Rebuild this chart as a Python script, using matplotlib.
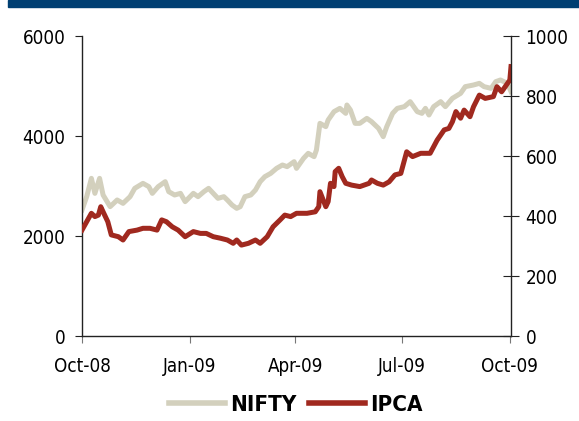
import numpy as np
import pandas as pd
import matplotlib
matplotlib.use("Agg")
import matplotlib.pyplot as plt
from matplotlib.patches import Rectangle

# days after 1 Oct 2008
nifty_days = [0, 4, 8, 11, 15, 18, 24, 30, 35, 41, 45, 52, 57, 60, 65, 71, 74, 79, 84, 88,
              95, 99, 104, 108, 112, 116, 121, 124, 128, 132, 135, 139, 144, 148, 152, 156,
              161, 166, 171, 175, 181, 183, 189, 193, 198, 200, 203, 208, 210, 215, 220, 225,
              226, 229, 233, 237, 243, 247, 253, 257, 260, 265, 269, 275, 280, 286, 290, 293,
              296, 300, 306, 310, 316, 323, 327, 334, 339, 343, 349, 353, 357, 363, 366]
nifty = [2520, 2787, 3153, 2853, 3153, 2820, 2587, 2720, 2653, 2787, 2953, 3053, 2987, 2853,
         2987, 3087, 2887, 2820, 2853, 2687, 2853, 2787, 2887, 2953, 2853, 2753, 2787, 2720,
         2620, 2553, 2587, 2787, 2820, 2920, 3087, 3187, 3253, 3353, 3420, 3387, 3487, 3353,
         3553, 3653, 3587, 3720, 4253, 4187, 4320, 4487, 4553, 4453, 4620, 4520, 4253, 4253,
         4353, 4287, 4153, 3987, 4187, 4453, 4553, 4587, 4687, 4487, 4453, 4553, 4420, 4587,
         4687, 4587, 4753, 4853, 4987, 5020, 5053, 4987, 4953, 5087, 5120, 5053, 4887]

ipca_days = [0, 4, 8, 11, 14, 16, 18, 22, 25, 31, 35, 40, 47, 52, 58, 64, 68, 72, 77, 82,
             88, 95, 101, 106, 112, 118, 124, 129, 132, 136, 142, 148, 152, 158, 163, 169,
             173, 178, 183, 192, 199, 202, 203, 208, 210, 212, 215, 216, 219, 222, 225, 230,
             237, 245, 247, 252, 257, 262, 267, 272, 277, 282, 289, 297, 303, 309, 313, 316,
             319, 323, 326, 331, 334, 339, 344, 351, 354, 358, 363, 365, 366]
ipca = [353, 381, 409, 398, 403, 431, 414, 381, 337, 331, 320, 348, 353, 359, 359, 353, 387,
        381, 364, 353, 331, 348, 342, 342, 331, 326, 320, 309, 320, 303, 309, 320, 309, 331,
        364, 387, 403, 398, 409, 409, 414, 431, 481, 431, 448, 509, 498, 548, 559, 531, 509,
        503, 498, 509, 520, 509, 503, 514, 537, 542, 614, 598, 609, 609, 653, 687, 692, 714,
        748, 726, 753, 731, 764, 803, 792, 798, 831, 814, 842, 853, 898]

start = pd.Timestamp("2008-10-01")
nifty_dates = start + pd.to_timedelta(nifty_days, unit="D")
ipca_dates = start + pd.to_timedelta(ipca_days, unit="D")

xtick_dates = pd.to_datetime(["2008-10-01", "2009-01-01", "2009-04-01", "2009-07-01", "2009-10-01"])
xtick_labels = ["Oct-08", "Jan-09", "Apr-09", "Jul-09", "Oct-09"]

plt.rcParams['font.family'] = ['DejaVu Sans']
plt.rcParams['font.stretch'] = 'condensed'

fig = plt.figure(figsize=(5.79, 4.21), dpi=100)
fig.patches.append(Rectangle((8 / 579, 1 - 7 / 421), 1, 7 / 421, transform=fig.transFigure,
                             color="#003f72", zorder=0))

ax = fig.add_axes([82 / 579, 85 / 421, 429 / 579, 300 / 421])
ax2 = ax.twinx()

l1, = ax.plot(nifty_dates, nifty, color="#d3d0bd", lw=3.6, solid_joinstyle="round")
l2, = ax2.plot(ipca_dates, ipca, color="#a0291f", lw=3.6, solid_joinstyle="round")

ax.set_xlim(start, start + pd.Timedelta(days=366))
ax.set_ylim(0, 6000)
ax2.set_ylim(0, 1000)
ax.set_yticks([0, 2000, 4000, 6000])
ax2.set_yticks([0, 200, 400, 600, 800, 1000])
ax.set_xticks(xtick_dates)
ax.set_xticklabels(xtick_labels)

for a in (ax, ax2):
    a.spines['top'].set_visible(False)
    for s in a.spines.values():
        s.set_color("#222222")
        s.set_linewidth(1)
ax.spines['right'].set_visible(False)
ax2.spines['left'].set_visible(False)
ax2.spines['bottom'].set_visible(False)

ax.tick_params(axis='y', direction='out', length=5, labelsize=13.5, pad=7, color="#222222")
ax.tick_params(axis='x', direction='out', length=5, labelsize=13.5, pad=10, color="#777777")
ax2.tick_params(axis='y', direction='inout', length=11, labelsize=13.5, pad=5, color="#222222")

ax2.set_zorder(ax.get_zorder() + 1)
ax2.patch.set_visible(False)

leg = fig.legend([l1, l2], ["NIFTY", "IPCA"], loc="center", bbox_to_anchor=(296 / 579, 1 - 405 / 421),
                 ncol=2, frameon=False, handlelength=2.5, columnspacing=0.55, handletextpad=0.25,
                 prop={'weight': 'bold', 'size': 16, 'stretch': 'condensed'})
for line in leg.get_lines():
    line.set_linewidth(4)

fig.savefig("out.png", dpi=100)
